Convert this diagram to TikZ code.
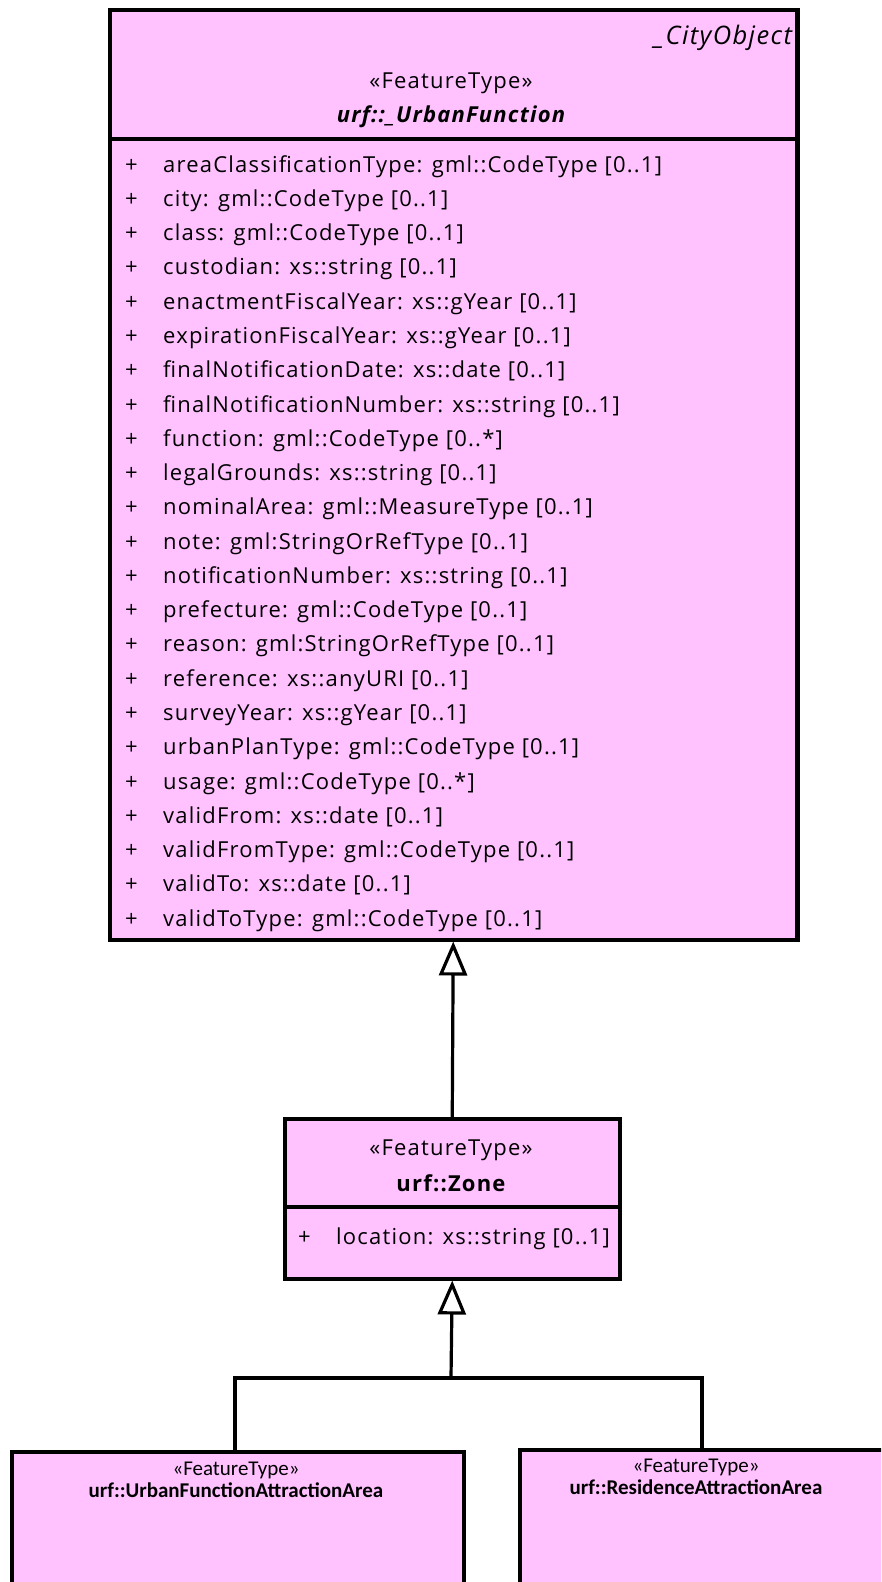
\documentclass[tikz,border=0pt]{standalone}
\usepackage{fontspec}
\setmainfont{Open Sans}
\newfontfamily\uml[LetterSpace=5.5]{Open Sans}
\newfontfamily\smallfont{Carlito}
\usetikzlibrary{arrows.meta}
\definecolor{ftpink}{RGB}{255,194,255}
\tikzset{
  classbox/.style={draw=black, line width=3.5pt, fill=ftpink, anchor=north west, inner sep=0pt},
  sepline/.style={draw=black, line width=3.5pt},
  umltext/.style={inner sep=0pt, font=\uml\fontsize{22}{26}\selectfont},
  attr/.style={umltext, anchor=mid west},
  plus/.style={umltext, anchor=mid west},
  stereo/.style={umltext, anchor=mid},
  small/.style={anchor=mid, inner sep=0pt, font=\smallfont\fontsize{21}{24}\selectfont},
  conn/.style={draw=black, line width=3.2pt},
  gen/.style={conn, -{Triangle[open, length=34pt, width=28pt, line width=3.2pt, fill=white]}}
}
\begin{document}
\begin{tikzpicture}[x=1pt,y=-1pt]
\useasboundingbox (0,0) rectangle (881,1582);
\clip (0,0) rectangle (881,1582);
% top class
\node[classbox, minimum width=687pt, minimum height=930pt] (uf) at (108,8) {};
\draw[sepline] (uf.west |- 0,139) -- (uf.east |- 0,139);
\begin{scope}
\clip (108,8) rectangle (793,139);
\node[umltext, anchor=mid west, font=\uml\itshape\fontsize{25.5}{30}\selectfont] (ufpar) at (654,42) {\_CityObject};
\end{scope}
\draw[draw=black, line width=3.5pt] (uf.north east) -- (uf.south east);
\node[stereo] (ufst) at (451,86) {«FeatureType»};
\node[stereo, font=\uml\bfseries\itshape\fontsize{22}{26}\selectfont] (ufname) at (451,120) {urf::\_UrbanFunction};
\foreach \i in {0,...,22} {
  \node[plus] (p\i) at (125,169.5+34.27*\i) {+};
}
\node[attr] (a0) at (163,169.5+34.27*0) {areaClassificationType: gml::CodeType [0..1]};
\node[attr] (a1) at (163,169.5+34.27*1) {city: gml::CodeType [0..1]};
\node[attr] (a2) at (163,169.5+34.27*2) {class: gml::CodeType [0..1]};
\node[attr] (a3) at (163,169.5+34.27*3) {custodian: xs::string [0..1]};
\node[attr] (a4) at (163,169.5+34.27*4) {enactmentFiscalYear: xs::gYear [0..1]};
\node[attr] (a5) at (163,169.5+34.27*5) {expirationFiscalYear: xs::gYear [0..1]};
\node[attr] (a6) at (163,169.5+34.27*6) {finalNotificationDate: xs::date [0..1]};
\node[attr] (a7) at (163,169.5+34.27*7) {finalNotificationNumber: xs::string [0..1]};
\node[attr] (a8) at (163,169.5+34.27*8) {function: gml::CodeType [0..*]};
\node[attr] (a9) at (163,169.5+34.27*9) {legalGrounds: xs::string [0..1]};
\node[attr] (a10) at (163,169.5+34.27*10) {nominalArea: gml::MeasureType [0..1]};
\node[attr] (a11) at (163,169.5+34.27*11) {note: gml:StringOrRefType [0..1]};
\node[attr] (a12) at (163,169.5+34.27*12) {notificationNumber: xs::string [0..1]};
\node[attr] (a13) at (163,169.5+34.27*13) {prefecture: gml::CodeType [0..1]};
\node[attr] (a14) at (163,169.5+34.27*14) {reason: gml:StringOrRefType [0..1]};
\node[attr] (a15) at (163,169.5+34.27*15) {reference: xs::anyURI [0..1]};
\node[attr] (a16) at (163,169.5+34.27*16) {surveyYear: xs::gYear [0..1]};
\node[attr] (a17) at (163,169.5+34.27*17) {urbanPlanType: gml::CodeType [0..1]};
\node[attr] (a18) at (163,169.5+34.27*18) {usage: gml::CodeType [0..*]};
\node[attr] (a19) at (163,169.5+34.27*19) {validFrom: xs::date [0..1]};
\node[attr] (a20) at (163,169.5+34.27*20) {validFromType: gml::CodeType [0..1]};
\node[attr] (a21) at (163,169.5+34.27*21) {validTo: xs::date [0..1]};
\node[attr] (a22) at (163,169.5+34.27*22) {validToType: gml::CodeType [0..1]};
% zone class
\node[classbox, minimum width=335pt, minimum height=160pt] (zone) at (283,1117) {};
\draw[sepline] (zone.west |- 0,1207) -- (zone.east |- 0,1207);
\node[stereo] (zst) at (451,1153) {«FeatureType»};
\node[stereo, font=\uml\bfseries\fontsize{22}{26}\selectfont] (zname) at (451,1189) {urf::Zone};
\node[plus] (zp) at (298,1242) {+};
\node[attr] (za) at (336,1242) {location: xs::string [0..1]};
% bottom classes
\node[classbox, minimum width=452pt, minimum height=200pt] (ufa) at (10,1450) {};
\node[small] (ufast) at (236,1473) {«FeatureType»};
\node[small, font=\smallfont\bfseries\fontsize{21}{24}\selectfont] (ufaname) at (236,1495) {urf::UrbanFunctionAttractionArea};
\node[classbox, minimum width=400pt, minimum height=200pt] (raa) at (518,1448) {};
\node[small] (raast) at (696,1470) {«FeatureType»};
\node[small, font=\smallfont\bfseries\fontsize{21}{24}\selectfont] (raaname) at (696,1492) {urf::ResidenceAttractionArea};
% connectors
\draw[gen] (zone.north) -- (uf.south);
\coordinate (join) at (451,1378);
\draw[conn] (ufa.north -| 235,0) |- (join) -| (raa.north -| 702,0);
\draw[gen] (join) -- (zone.south);
\end{tikzpicture}
\end{document}
